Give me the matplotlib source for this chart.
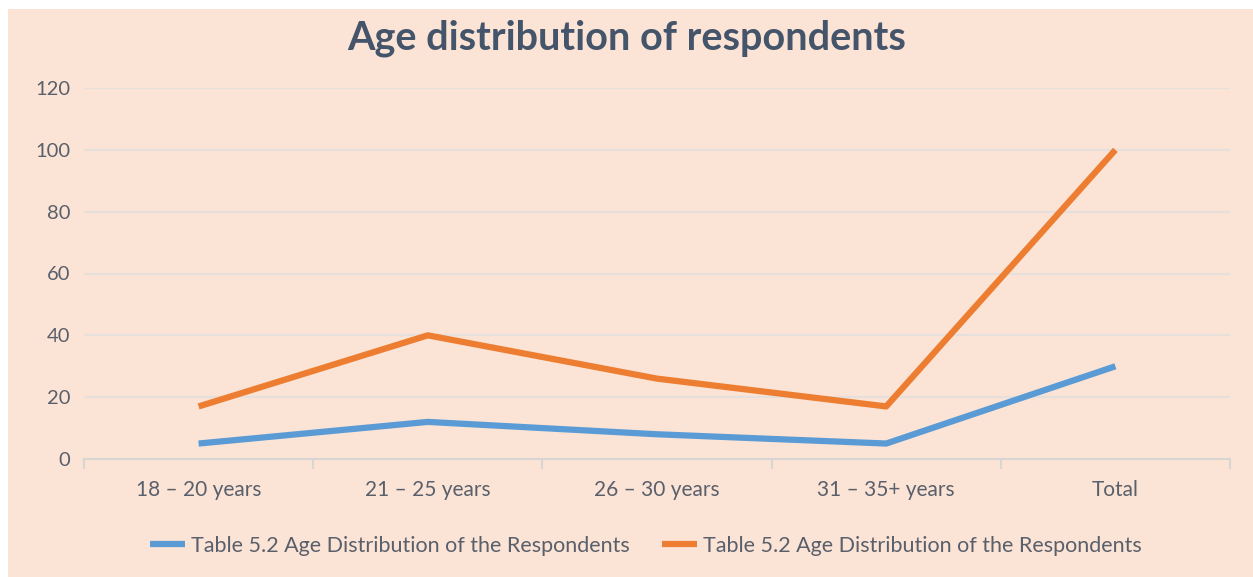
import matplotlib.pyplot as plt
from matplotlib.patches import Rectangle
import numpy as np

# age groups and counts from table 5.2
categories = ["18 \u2013 20 years", "21 \u2013 25 years", "26 \u2013 30 years", "31 \u2013 35+ years", "Total"]
series_a = [5, 12, 8, 5, 30]
series_b = [17, 40, 26, 17, 100]
series_label = "Table 5.2 Age Distribution of the Respondents"
y_ticks = [0, 20, 40, 60, 80, 100, 120]

bg = "#fbe4d5"
text_col = "#595f6b"

plt.rcParams['font.family'] = ['Lato', 'DejaVu Sans']

fig = plt.figure(figsize=(12.53, 5.77), dpi=100)
fig.patch.set_facecolor("white")
fig.patches.append(Rectangle((8 / 1253, 0), 1 - 8 / 1253, 1 - 9 / 577,
                             transform=fig.transFigure, facecolor=bg,
                             edgecolor="none", zorder=-1))

ax = fig.add_axes([84 / 1253, 1 - 459 / 577, (1230 - 84) / 1253, (459 - 88) / 577])
ax.set_facecolor(bg)
ax.patch.set_alpha(0)

x = np.arange(len(categories))
ax.plot(x, series_a, color="#5b9bd5", lw=4.5, solid_capstyle="butt", label=series_label)
ax.plot(x, series_b, color="#ed7d31", lw=4.5, solid_capstyle="butt", label=series_label)

ax.set_xlim(-0.5, len(categories) - 0.5)
ax.set_ylim(0, 120)
ax.set_yticks(y_ticks)
ax.set_xticks(x)
ax.set_xticklabels(categories)
ax.set_xticks(np.arange(len(categories) + 1) - 0.5, minor=True)

ax.grid(axis="y", color="#e6e0dc", lw=1.5)
ax.set_axisbelow(True)
for s in ["top", "right", "left"]:
    ax.spines[s].set_visible(False)
ax.spines["bottom"].set_color("#d9d5d2")
ax.spines["bottom"].set_linewidth(1.5)

ax.tick_params(axis="y", length=0, pad=10, labelsize=14.5, labelcolor=text_col)
ax.tick_params(axis="x", which="major", length=0, pad=15, labelsize=15, labelcolor=text_col)
ax.tick_params(axis="x", which="minor", length=7, width=1.5, color="#d9d5d2")

fig.text(627 / 1253, 1 - 38 / 577, "Age distribution of respondents", ha="center", va="center",
         fontsize=28.5, fontweight="bold", color="#44546a")

fig.legend(loc="center", bbox_to_anchor=(646 / 1253, 1 - 546 / 577), ncol=2, frameon=False,
           fontsize=15.5, labelcolor=text_col, handlelength=1.6, handletextpad=0.3,
           columnspacing=1.5)

fig.savefig("out.png", dpi=100)
